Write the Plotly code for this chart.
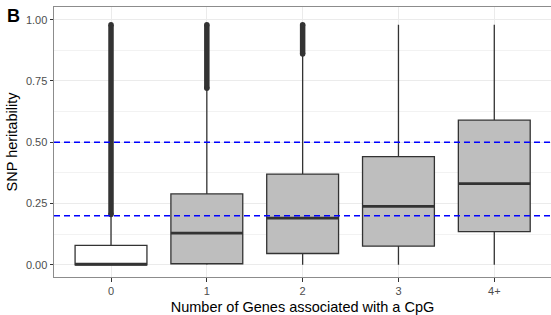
import plotly.graph_objects as go

# ---- data ----
categories = ["0", "1", "2", "3", "4+"]
q1 = [0.0, 0.004, 0.046, 0.076, 0.135]
medians = [0.002, 0.129, 0.19, 0.238, 0.331]
q3 = [0.079, 0.289, 0.37, 0.441, 0.59]
lower_whisker = [0.0, 0.0, 0.0, 0.0, 0.0]
upper_whisker = [0.2, 0.715, 0.855, 0.98, 0.98]
outlier_low = [0.205, 0.72, 0.86, None, None]
outlier_high = [0.98, 0.98, 0.98, None, None]
thresholds = [0.2, 0.5]
y_ticks = [0.0, 0.25, 0.5, 0.75, 1.0]

# ---- styling ----
FONT = "Liberation Sans"
DARK = "#333333"
fills = ["#FFFFFF"] + ["#BEBEBE"] * 4
BOX_W = 0.75

xpos = list(range(len(categories)))
fig = go.Figure()

for i, cat in enumerate(categories):
    fig.add_trace(go.Box(
        x=[xpos[i]], q1=[q1[i]], median=[medians[i]], q3=[q3[i]],
        lowerfence=[lower_whisker[i]], upperfence=[upper_whisker[i]],
        width=BOX_W, whiskerwidth=0, fillcolor=fills[i],
        line=dict(color=DARK, width=1.3), boxpoints=False,
        showlegend=False, hoverinfo="skip",
    ))
    # thicker median line (ggplot fatten)
    fig.add_trace(go.Scatter(
        x=[xpos[i] - BOX_W / 2, xpos[i] + BOX_W / 2], y=[medians[i], medians[i]],
        mode="lines", line=dict(color=DARK, width=2.8),
        showlegend=False, hoverinfo="skip",
    ))
    # dense outlier stacks
    if outlier_low[i] is not None:
        fig.add_trace(go.Scatter(
            x=[xpos[i], xpos[i]], y=[outlier_low[i], outlier_high[i]],
            mode="lines+markers", line=dict(color=DARK, width=5.5),
            marker=dict(color=DARK, size=5.5),
            showlegend=False, hoverinfo="skip",
        ))

for t in thresholds:
    fig.add_shape(type="line", xref="paper", x0=0, x1=1, yref="y", y0=t, y1=t,
                  line=dict(color="#0000FF", width=1.3, dash="6px,4px"), layer="above")

fig.add_annotation(text="<b>B</b>", xref="paper", yref="paper",
                   x=(13 - 54) / 497, y=(277 - 16) / 270, xanchor="center", yanchor="middle",
                   showarrow=False, font=dict(family=FONT, size=18, color="#000000"))

fig.update_layout(
    width=551, height=315,
    margin=dict(l=54, r=0, t=7, b=38, autoexpand=False),
    paper_bgcolor="white", plot_bgcolor="white",
    font=dict(family=FONT),
    xaxis=dict(
        range=[-0.595, 4.592], tickvals=xpos, ticktext=categories,
        showgrid=True, gridcolor="#EBEBEB", gridwidth=1,
        showline=True, linecolor="#8C8C8C", linewidth=1, mirror=True,
        ticks="outside", ticklen=3.5, tickcolor=DARK, tickwidth=1,
        tickfont=dict(size=11, color="#4D4D4D"), zeroline=False, automargin=False,
        title=dict(text="Number of Genes associated with a CpG",
                   font=dict(size=14.5, color="#000000"), standoff=6),
    ),
    yaxis=dict(
        range=[-0.05, 1.052], tickvals=y_ticks,
        ticktext=[f"{v:.2f}" for v in y_ticks],
        showgrid=True, gridcolor="#EBEBEB", gridwidth=1,
        minor=dict(tickvals=[0.125, 0.375, 0.625, 0.875], showgrid=True,
                   gridcolor="#F2F2F2", gridwidth=0.8, ticks=""),
        showline=True, linecolor="#8C8C8C", linewidth=1,
        ticks="outside", ticklen=3.5, tickcolor=DARK, tickwidth=1,
        tickfont=dict(size=11, color="#4D4D4D"), zeroline=False, automargin=False,
        title=dict(text="SNP heritability", font=dict(size=14.5, color="#000000"), standoff=4),
    ),
)

fig.write_html("out.html", config={"displayModeBar": False},
               post_script="document.body.style.margin='0';")
